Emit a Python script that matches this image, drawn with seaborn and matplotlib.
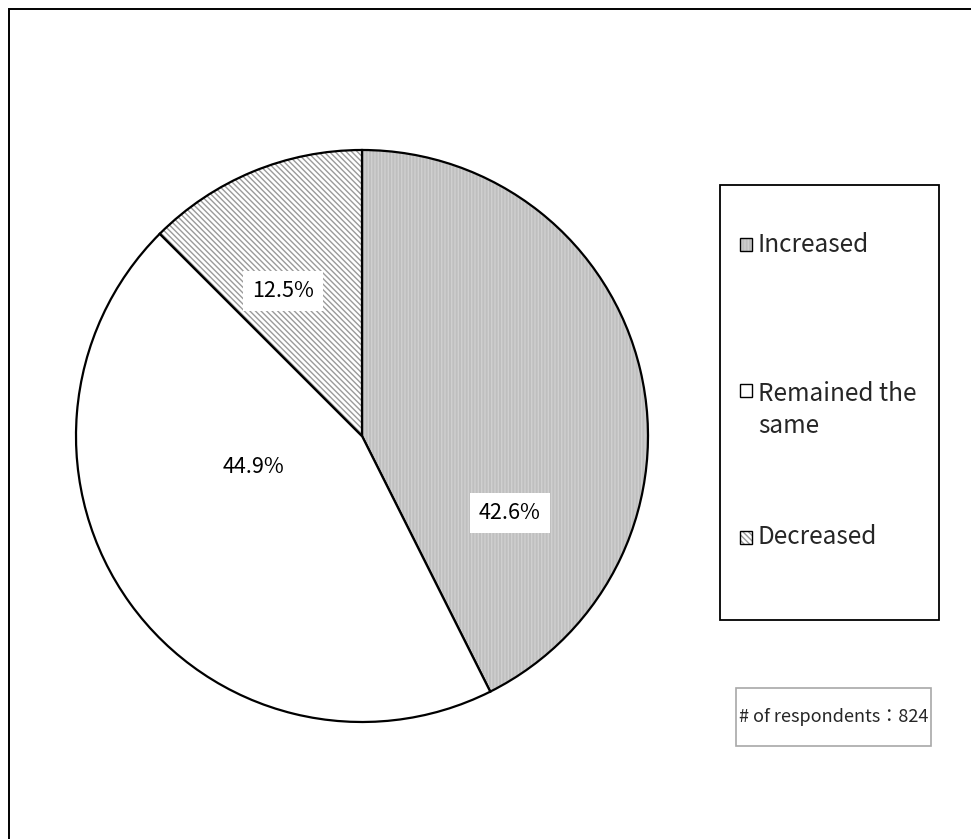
import matplotlib
matplotlib.use("Agg")
import matplotlib.pyplot as plt
import seaborn as sns
from matplotlib.patches import Rectangle

# Survey answers: change compared with the previous period
categories = ["Increased", "Remained the same", "Decreased"]
shares = [42.6, 44.9, 12.5]
pct_labels = ["42.6%", "44.9%", "12.5%"]
legend_labels = ["Increased", "Remained the\nsame", "Decreased"]
respondents = 824

sns.set_theme(style="white")
plt.rcParams["font.family"] = ["Noto Sans CJK JP", "DejaVu Sans"]
plt.rcParams["hatch.linewidth"] = 1.0

W, H = 971, 839
fig = plt.figure(figsize=(W / 100, H / 100), dpi=100)
ax = fig.add_axes([0, 0, 1, 1])

styles = [
    dict(facecolor="#bfbfbf", hatch="|||||", hcolor="#d0d0d0"),
    dict(facecolor="white", hatch="", hcolor="black"),
    dict(facecolor="white", hatch="\\\\\\\\\\\\", hcolor="#9a9a9a"),
]

cx, cy, r = 362, H - 436, 286
wedges, _ = ax.pie(
    shares,
    startangle=90,
    counterclock=False,
    center=(cx, cy),
    radius=r,
    frame=True,
    wedgeprops=dict(edgecolor="black", linewidth=1.6),
)
ax.set_xlim(0, W)
ax.set_ylim(0, H)
ax.set_aspect("equal")
ax.axis("off")
for w, st in zip(wedges, styles):
    w.set_facecolor(st["facecolor"])
    if st["hatch"]:
        w.set_hatch(st["hatch"])
        w._hatch_color = matplotlib.colors.to_rgba(st["hcolor"])

# Percentage labels
label_pos = [(510, 513), (253, 467), (283, 291)]
boxed = [True, False, True]
for (x, y), txt, b in zip(label_pos, pct_labels, boxed):
    kw = {}
    if b:
        kw["bbox"] = dict(boxstyle="square,pad=0.4", facecolor="white", edgecolor="none")
    ax.text(x, H - y, txt, ha="center", va="center", fontsize=15.5, color="black", **kw)

# Legend box drawn on the right
ax.add_patch(Rectangle((720, H - 620), 219, 435, facecolor="white",
                       edgecolor="black", linewidth=1.3, zorder=3))
entry_y = [244, 390, 537]
text_y = [245, 410, 537]
for st, ey, ty, lab in zip(styles, entry_y, text_y, legend_labels):
    sq = Rectangle((740, H - ey - 6.5), 12, 13, facecolor=st["facecolor"],
                   edgecolor="black", linewidth=1.0, zorder=4)
    if st["hatch"]:
        sq.set_hatch(st["hatch"])
        sq._hatch_color = matplotlib.colors.to_rgba(st["hcolor"])
    ax.add_patch(sq)
    ax.text(758, H - ty, lab, ha="left", va="center", fontsize=17.5,
            linespacing=1.3, zorder=5)

# Respondent count box
ax.add_patch(Rectangle((736, H - 746), 195, 58, facecolor="white",
                       edgecolor="#a8a8a8", linewidth=1.2, zorder=3))
ax.text(833.5, H - 717, f"# of respondents：{respondents}", ha="center",
        va="center", fontsize=13, zorder=5)

# Outer frame of the figure (only top and left edges fall inside the canvas)
ax.add_patch(Rectangle((8.5, -20), W + 40, H - 8.5 + 20, facecolor="none",
                       edgecolor="black", linewidth=1.4, zorder=6, clip_on=False))

fig.savefig("out.png", dpi=100)
